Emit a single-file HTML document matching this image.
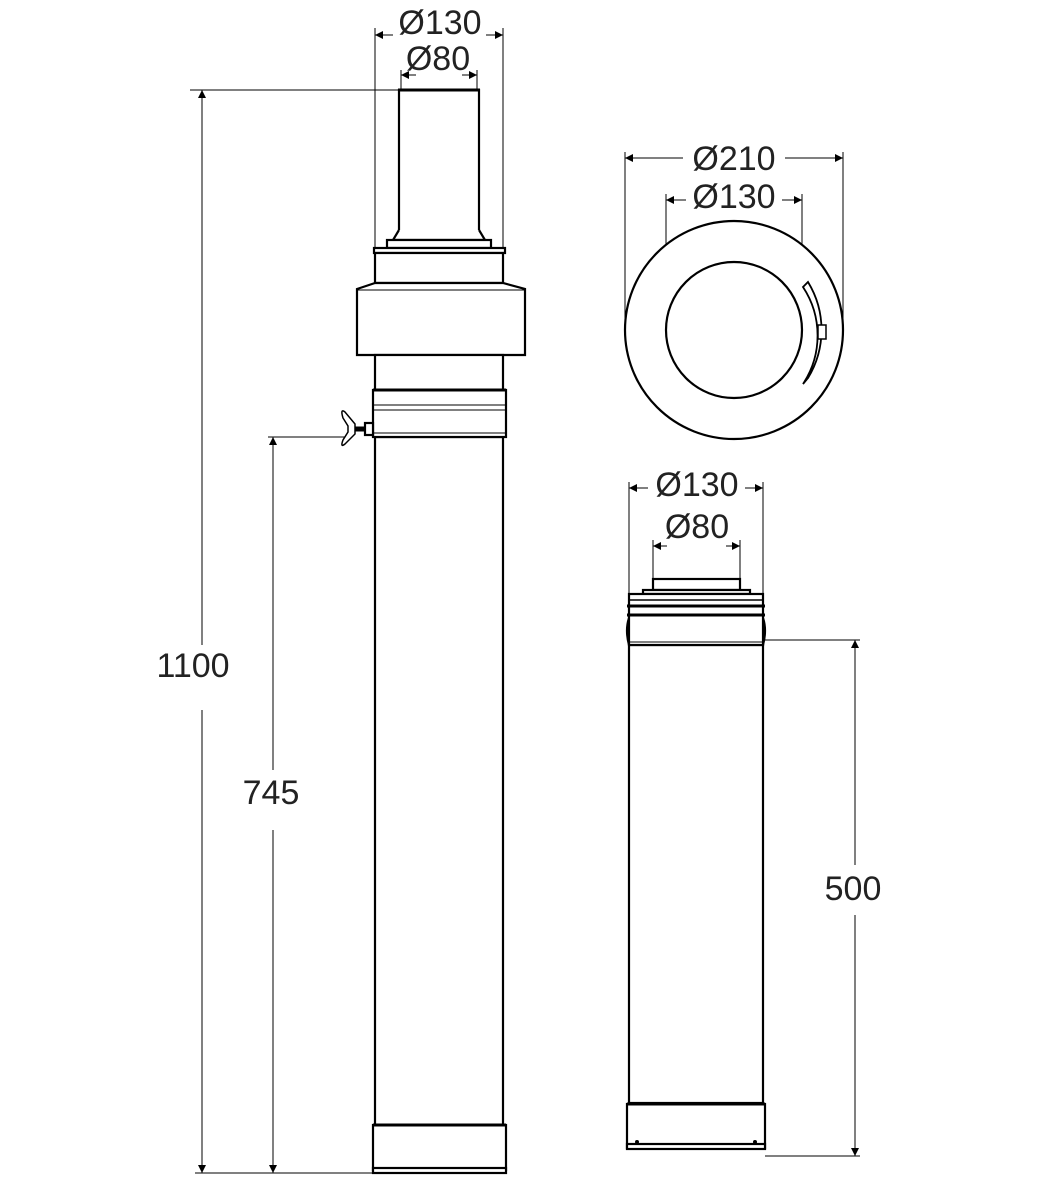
<!DOCTYPE html>
<html><head><style>body{margin:0;background:#fff}svg{display:block}text{font-family:"Liberation Sans",sans-serif;font-size:34px;fill:#222;text-anchor:middle}</style></head><body>
<svg width="1040" height="1182" viewBox="0 0 1040 1182" xmlns="http://www.w3.org/2000/svg">
<defs><marker id="a" viewBox="0 0 10 10" refX="10" refY="5" markerWidth="15" markerHeight="8" markerUnits="userSpaceOnUse" orient="auto-start-reverse"><path d="M0,0L10,5L0,10z" fill="#000"/></marker></defs>
<g stroke="#000" stroke-width="1" fill="none">
<line x1="190" y1="90" x2="399" y2="90"/>
<line x1="268" y1="437" x2="345" y2="437"/>
<line x1="195" y1="1173" x2="375" y2="1173"/>
<line x1="202" y1="90" x2="202" y2="645" marker-start="url(#a)"/>
<line x1="202" y1="710" x2="202" y2="1173" marker-end="url(#a)"/>
<line x1="273" y1="437" x2="273" y2="770" marker-start="url(#a)"/>
<line x1="273" y1="830" x2="273" y2="1173" marker-end="url(#a)"/>
<line x1="375" y1="28" x2="375" y2="250"/><line x1="503" y1="28" x2="503" y2="250"/>
<line x1="375" y1="35" x2="393" y2="35" marker-start="url(#a)"/><line x1="486" y1="35" x2="503" y2="35" marker-end="url(#a)"/>
<line x1="401" y1="70" x2="401" y2="90"/><line x1="477" y1="70" x2="477" y2="90"/>
<line x1="401" y1="75" x2="416" y2="75" marker-start="url(#a)"/><line x1="462" y1="75" x2="477" y2="75" marker-end="url(#a)"/>
<line x1="625" y1="152" x2="625" y2="330"/><line x1="843" y1="152" x2="843" y2="330"/>
<line x1="625" y1="158" x2="683" y2="158" marker-start="url(#a)"/><line x1="785" y1="158" x2="843" y2="158" marker-end="url(#a)"/>
<line x1="666" y1="194" x2="666" y2="330"/><line x1="802" y1="194" x2="802" y2="330"/>
<line x1="666" y1="200" x2="686" y2="200" marker-start="url(#a)"/><line x1="782" y1="200" x2="802" y2="200" marker-end="url(#a)"/>
<line x1="629" y1="482" x2="629" y2="594"/><line x1="763" y1="482" x2="763" y2="594"/>
<line x1="629" y1="488" x2="648" y2="488" marker-start="url(#a)"/><line x1="745" y1="488" x2="763" y2="488" marker-end="url(#a)"/>
<line x1="653" y1="540" x2="653" y2="580"/><line x1="740" y1="540" x2="740" y2="580"/>
<line x1="653" y1="546" x2="667" y2="546" marker-start="url(#a)"/><line x1="726" y1="546" x2="740" y2="546" marker-end="url(#a)"/>
<line x1="765" y1="640" x2="860" y2="640"/><line x1="765" y1="1156" x2="860" y2="1156"/>
<line x1="855" y1="640" x2="855" y2="865" marker-start="url(#a)"/><line x1="855" y1="915" x2="855" y2="1156" marker-end="url(#a)"/>
</g>
<g stroke="#000" stroke-width="2.2" fill="#fff">
<rect x="375" y="437" width="128" height="688"/>
<rect x="399" y="90" width="80" height="150"/>
<line x1="398" y1="90" x2="480" y2="90" stroke-width="3"/>
<path d="M399,230 L393,240 L485,240 L479,230" />
<rect x="387" y="240" width="104" height="8"/>
<rect x="374" y="248" width="131" height="5"/>
<rect x="375" y="253" width="128" height="30"/>
<path d="M375,283 L357,289 L357,355 L525,355 L525,289 L503,283 Z"/>
<line x1="357" y1="290" x2="525" y2="290" stroke-width="1"/>
<rect x="375" y="355" width="128" height="35"/>
<rect x="373" y="390" width="133" height="47"/>
<line x1="373" y1="390" x2="506" y2="390" stroke-width="3"/>
<line x1="373" y1="405" x2="506" y2="405" stroke-width="1"/>
<line x1="373" y1="410" x2="506" y2="410" stroke-width="1"/>
<line x1="373" y1="433" x2="506" y2="433" stroke-width="1"/>
<rect x="365" y="423" width="8" height="12"/>
<line x1="355" y1="429" x2="365" y2="429" stroke-width="5"/>
<path d="M355,424 L345,412 Q340,408 343,418 L348,426 L348,432 L343,440 Q340,448 345,444 L355,434 Z" stroke-width="1.5"/>
<rect x="373" y="1125" width="133" height="45"/>
<line x1="373" y1="1125" x2="506" y2="1125" stroke-width="3"/>
<rect x="373" y="1168" width="133" height="5"/>
<circle cx="734" cy="330" r="109"/>
<circle cx="734" cy="330" r="68"/>
<path d="M803,287 L808,282 A92,92 0 0 1 808,378 L803,384 A88,88 0 0 0 803,287 Z" stroke-width="1.8"/>
<rect x="818" y="325" width="8" height="14" stroke-width="1.5"/>
<rect x="629" y="645" width="134" height="458"/>
<path d="M629,618 Q625,630 629,645 M763,618 Q767,630 763,645" fill="none"/>
<rect x="653" y="579" width="87" height="11"/>
<rect x="643" y="590" width="107" height="4"/>
<rect x="629" y="594" width="134" height="51"/>
<line x1="629" y1="600" x2="763" y2="600" stroke-width="1.5"/>
<line x1="627" y1="606" x2="765" y2="606" stroke-width="3"/>
<line x1="627" y1="615" x2="765" y2="615" stroke-width="3"/>
<line x1="629" y1="642" x2="763" y2="642" stroke-width="1"/>
<rect x="627" y="1104" width="138" height="44"/>
<line x1="627" y1="1104" x2="765" y2="1104" stroke-width="3"/>
<rect x="627" y="1144" width="138" height="5"/>
</g>
<circle cx="637" cy="1142" r="2" fill="#000"/><circle cx="755" cy="1142" r="2" fill="#000"/>
<text x="440" y="34">Ø130</text>
<text x="438" y="70">Ø80</text>
<text x="193" y="677">1100</text>
<text x="271" y="804">745</text>
<text x="734" y="170">Ø210</text>
<text x="734" y="208">Ø130</text>
<text x="697" y="496">Ø130</text>
<text x="697" y="538">Ø80</text>
<text x="853" y="900">500</text>
</svg>
</body></html>
